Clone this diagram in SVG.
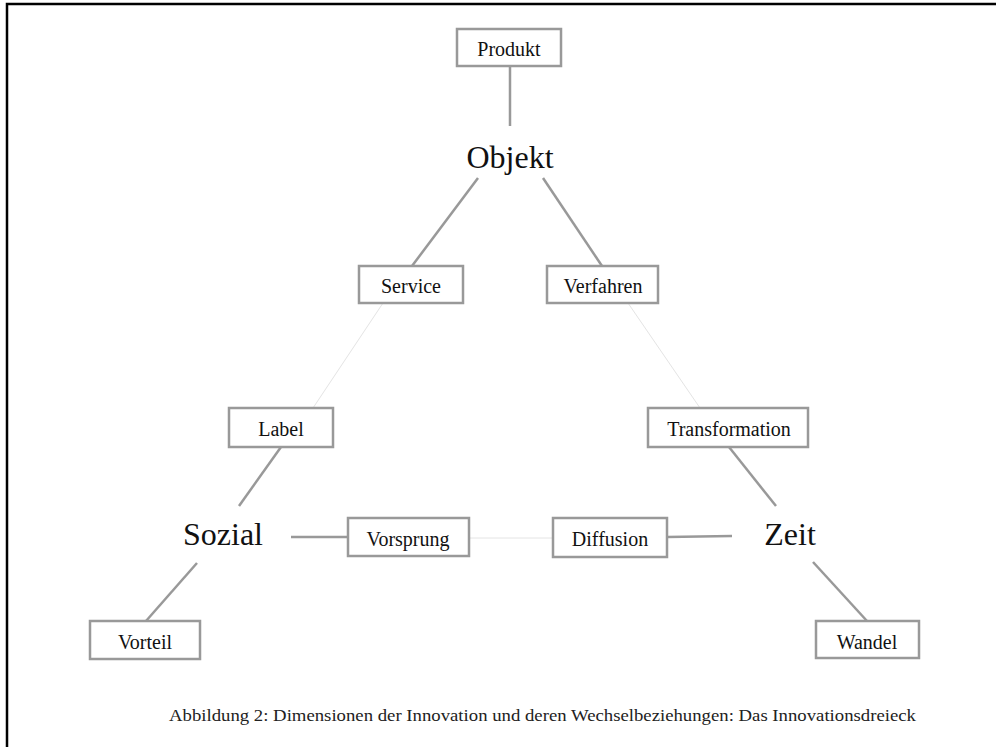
<svg xmlns="http://www.w3.org/2000/svg" width="996" height="747" viewBox="0 0 996 747">
<style>
.box{fill:#fff;stroke:#999;stroke-width:2.5}
.bt{font-family:"Liberation Serif",serif;font-size:20px;fill:#111;text-anchor:middle}
.big{font-family:"Liberation Serif",serif;font-size:32px;fill:#111;text-anchor:middle}
.c{stroke:#999;stroke-width:2.5;fill:none}
.f{stroke:#e4e4e4;stroke-width:1;fill:none}
</style>
<rect x="0" y="0" width="996" height="747" fill="#fff"/>
<rect x="7" y="4" width="1010" height="800" fill="none" stroke="#000" stroke-width="2.5"/>
<g id="connectors">
<line class="c" x1="510" y1="66" x2="510" y2="126"/>
<line class="c" x1="478" y1="178" x2="412" y2="266"/>
<line class="c" x1="543" y1="178" x2="602" y2="266"/>
<line class="f" x1="383" y1="303" x2="313" y2="408"/>
<line class="f" x1="628" y1="303" x2="700" y2="408"/>
<line class="c" x1="281" y1="447" x2="239" y2="506"/>
<line class="c" x1="729" y1="447" x2="776" y2="506"/>
<line class="c" x1="291" y1="537" x2="348" y2="537"/>
<line class="f" x1="469" y1="538" x2="553" y2="538"/>
<line class="c" x1="667" y1="537" x2="732" y2="536"/>
<line class="c" x1="197" y1="563" x2="146" y2="621"/>
<line class="c" x1="813" y1="562" x2="867" y2="621"/>
</g>
<g id="produkt"><rect class="box" x="457" y="29" width="104" height="37"/><text class="bt" x="509" y="56">Produkt</text></g>
<g id="objekt"><text class="big" x="510" y="168">Objekt</text></g>
<g id="service"><rect class="box" x="359" y="266" width="104" height="37"/><text class="bt" x="411" y="293">Service</text></g>
<g id="verfahren"><rect class="box" x="547" y="266" width="111" height="37"/><text class="bt" x="603" y="293">Verfahren</text></g>
<g id="label"><rect class="box" x="229" y="408" width="104" height="39"/><text class="bt" x="281" y="436">Label</text></g>
<g id="transformation"><rect class="box" x="648" y="408" width="160" height="39"/><text class="bt" x="729" y="436">Transformation</text></g>
<g id="sozial"><text class="big" x="223" y="545">Sozial</text></g>
<g id="vorsprung"><rect class="box" x="348" y="518" width="121" height="38"/><text class="bt" x="408" y="546">Vorsprung</text></g>
<g id="diffusion"><rect class="box" x="553" y="518" width="114" height="39"/><text class="bt" x="610" y="546">Diffusion</text></g>
<g id="zeit"><text class="big" x="790" y="545">Zeit</text></g>
<g id="vorteil"><rect class="box" x="90" y="621" width="110" height="38"/><text class="bt" x="145" y="649">Vorteil</text></g>
<g id="wandel"><rect class="box" x="816" y="621" width="103" height="37"/><text class="bt" x="867" y="649">Wandel</text></g>
<text x="169" y="721" font-family="Liberation Serif, serif" font-size="17.5" fill="#222" textLength="747" lengthAdjust="spacingAndGlyphs">Abbildung 2: Dimensionen der Innovation und deren Wechselbeziehungen: Das Innovationsdreieck</text>
</svg>
